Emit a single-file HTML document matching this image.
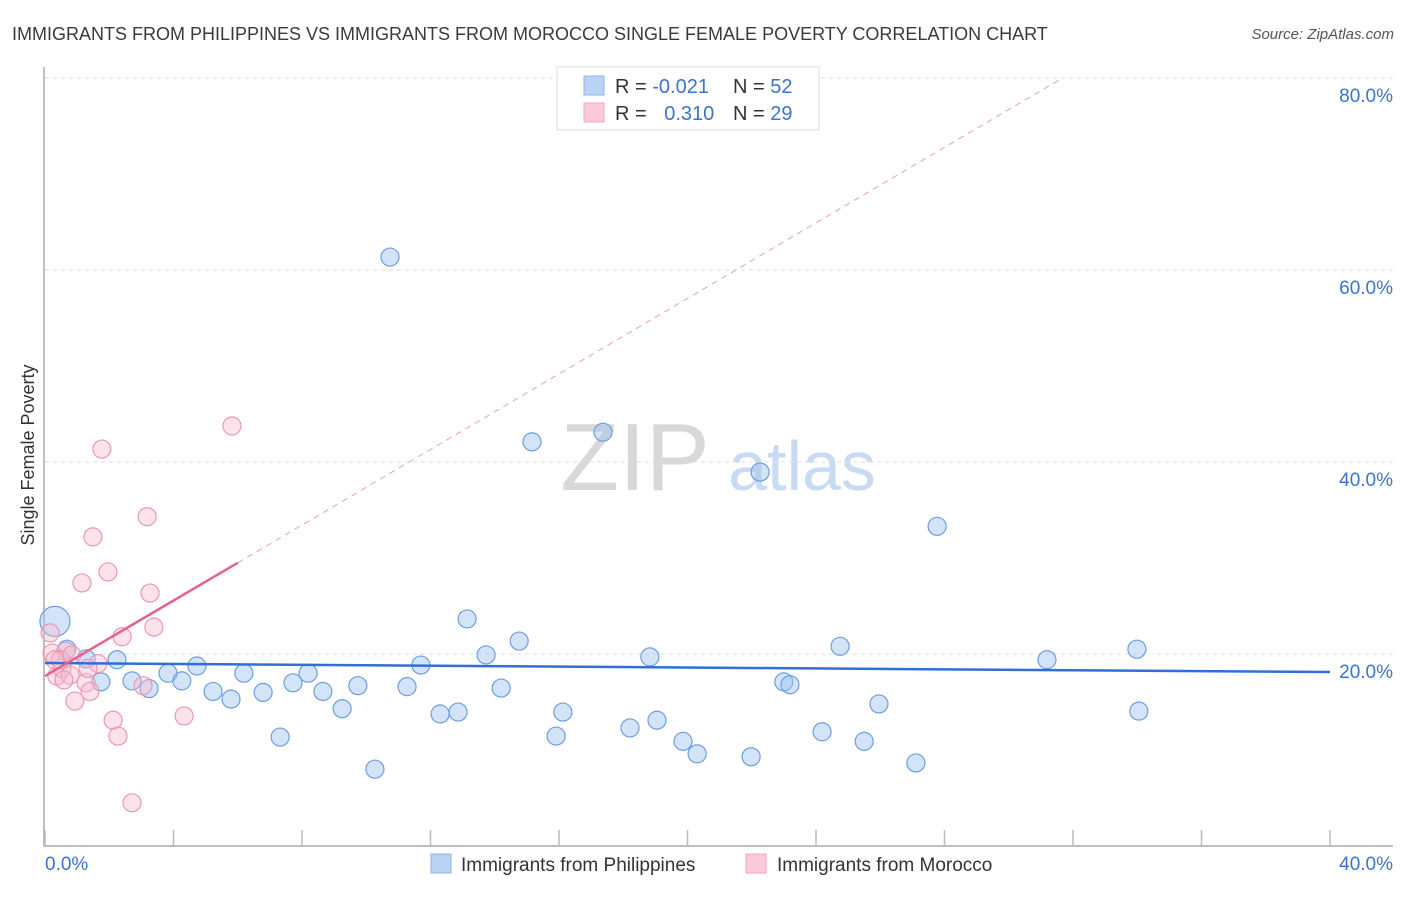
<!DOCTYPE html>
<html><head><meta charset="utf-8"><style>
body{margin:0;background:#fff;font-family:"Liberation Sans",sans-serif;}
svg text{font-family:"Liberation Sans",sans-serif;}
</style></head><body>
<svg id="chart" width="1406" height="892" viewBox="0 0 1406 892" xmlns="http://www.w3.org/2000/svg">
<text x="12" y="40" font-size="18" fill="#3a3a3a">IMMIGRANTS FROM PHILIPPINES VS IMMIGRANTS FROM MOROCCO SINGLE FEMALE POVERTY CORRELATION CHART</text>
<text x="1394" y="39" font-size="15" fill="#555" text-anchor="end" font-style="italic">Source: ZipAtlas.com</text>
<g>
<text x="635" y="490" font-size="96" fill="#d8d8d8" text-anchor="middle" font-family="Liberation Serif, serif">ZIP</text>
<text x="802" y="490" font-size="70" fill="#c9dbf3" text-anchor="middle">atlas</text>
</g>
<g id="grid"></g><g id="axes"></g><g id="marks"></g>
<text transform="translate(34,455) rotate(-90)" font-size="18" fill="#333" text-anchor="middle">Single Female Poverty</text>
<g>
<rect x="557" y="67" width="262" height="63" fill="#fff" stroke="#ddd"/>
<rect x="584" y="76" width="20" height="19" fill="#b9d3f5" stroke="#8fb4e6"/>
<rect x="584" y="103" width="20" height="19" fill="#fbc9d7" stroke="#f0a6bc"/>
<text x="615" y="93" font-size="20" fill="#333">R = <tspan fill="#3a74d0">-0.021</tspan></text>
<text x="733" y="93" font-size="20" fill="#333">N = <tspan fill="#3a74d0">52</tspan></text>
<text x="615" y="120" font-size="20" fill="#333">R = <tspan fill="#3a74d0" dx="12">0.310</tspan></text>
<text x="733" y="120" font-size="20" fill="#333">N = <tspan fill="#3a74d0">29</tspan></text>
</g>
<g>
<rect x="431" y="854" width="20" height="19" fill="#b9d3f5" stroke="#8fb4e6"/>
<text x="461" y="871" font-size="19" fill="#333">Immigrants from Philippines</text>
<rect x="746" y="854" width="20" height="19" fill="#fbc9d7" stroke="#f0a6bc"/>
<text x="777" y="871" font-size="19" fill="#333">Immigrants from Morocco</text>
</g>
</svg>
<script>
const blueX=[0.31,0.68,1.28,1.74,2.24,2.71,3.24,3.83,4.26,4.73,5.23,5.79,6.19,6.79,7.32,7.72,8.19,8.65,9.25,9.74,10.27,10.74,11.27,11.70,12.30,12.86,13.14,13.73,14.20,14.76,15.16,15.91,16.12,17.37,18.21,18.83,19.05,19.86,20.30,21.98,22.26,23.0,23.19,24.19,24.75,25.5,25.96,27.11,27.77,31.19,33.99,34.05];
const blueY=[23.4,20.5,19.5,17.1,19.4,17.2,16.4,18.0,17.2,18.75,16.1,15.3,18.0,16.0,11.35,17.0,18.0,16.1,14.3,16.7,8.0,61.35,16.6,18.85,13.75,13.95,23.65,19.9,16.45,21.35,42.1,11.45,13.95,43.1,12.3,19.7,13.1,10.9,9.6,9.3,38.95,17.1,16.8,11.9,20.8,10.9,14.8,8.65,33.3,19.4,20.5,14.05];
const pinkX=[0.16,0.22,0.37,0.53,0.65,0.78,0.93,1.15,1.28,1.40,1.49,1.65,1.77,1.96,2.12,2.27,2.40,2.71,3.05,3.18,3.27,3.39,4.33,5.82,0.47,0.84,0.31,0.59,1.34];
const pinkY=[22.2,20.1,17.7,18.5,20.3,17.8,15.1,27.4,17.0,16.1,32.2,19.0,41.35,28.55,13.1,11.45,21.8,4.5,16.7,34.3,26.35,22.8,13.55,43.75,19.4,19.9,19.4,17.3,18.5];
const blueTrend=[19.06,-0.0235];
const pinkTrend=[17.7,1.967];
const yTicks=[20,40,60,80];
const yTickLabels=["20.0%","40.0%","60.0%","80.0%"];
const xTickVals=[0,4,8,12,16,20,24,28,32,36,40];
const xLabels=["0.0%","40.0%"];
const NS="http://www.w3.org/2000/svg";
const sx=v=>45+v*(1285/40), sy=v=>846-v*9.6;
function mk(tag,attrs,parent){const e=document.createElementNS(NS,tag);for(const k in attrs)e.setAttribute(k,attrs[k]);parent.appendChild(e);return e;}
const grid=document.getElementById('grid'),axes=document.getElementById('axes'),marks=document.getElementById('marks');
yTicks.forEach((t,i)=>{
 const l=mk('line',{x1:45,x2:1393,y1:sy(t),y2:sy(t),stroke:'#ddd','stroke-dasharray':'4,4'},grid);
 
 
 const tx=mk('text',{x:1393,y:sy(t)+8+(i==0?11:0)+(i>0?11:0)-11+(t==80?0:0),'font-size':19,fill:'#3a74d0','text-anchor':'end'},axes);
 tx.setAttribute('y',sy(t)+24);
 tx.textContent=yTickLabels[i];
 
 
});
const ax=mk('path',{d:'M44,67 V846 H1393',fill:'none',stroke:'#aaa','stroke-width':1.5},axes);


xTickVals.forEach(t=>{
 const l=mk('line',{x1:sx(t),x2:sx(t),y1:830,y2:846,stroke:'#bbb','stroke-width':1.5},axes);
 
 
});
const xl0=mk('text',{x:45,y:870,'font-size':19,fill:'#3a74d0'},axes);xl0.textContent=xLabels[0];


const xl1=mk('text',{x:1393,y:870,'font-size':19,fill:'#3a74d0','text-anchor':'end'},axes);xl1.textContent=xLabels[1];


blueX.forEach((x,i)=>{
 const c=mk('circle',{cx:sx(x),cy:sy(blueY[i]),r:i==0?15:9,fill:'rgba(160,196,240,0.45)',stroke:'#6c9ee2','stroke-width':1.2},marks);
 
 
});
pinkX.forEach((x,i)=>{
 const c=mk('circle',{cx:sx(x),cy:sy(pinkY[i]),r:9,fill:'rgba(248,184,204,0.4)',stroke:'#eb98b0','stroke-width':1.2},marks);
 
 
});
const bt=mk('line',{x1:sx(0),y1:sy(blueTrend[0]),x2:sx(40),y2:sy(blueTrend[0]+blueTrend[1]*40),stroke:'#2f6fd6','stroke-width':2.5},marks);


const pe=(80-pinkTrend[0])/pinkTrend[1];
const pd=mk('line',{x1:sx(6),y1:sy(pinkTrend[0]+pinkTrend[1]*6),x2:sx(pe),y2:sy(80),stroke:'#eaa0b6','stroke-width':1,'stroke-dasharray':'6,5'},marks);


const pt=mk('line',{x1:sx(0),y1:sy(pinkTrend[0]),x2:sx(6),y2:sy(pinkTrend[0]+pinkTrend[1]*6),stroke:'#e5628c','stroke-width':2.5},marks);


</script>
</body></html>
